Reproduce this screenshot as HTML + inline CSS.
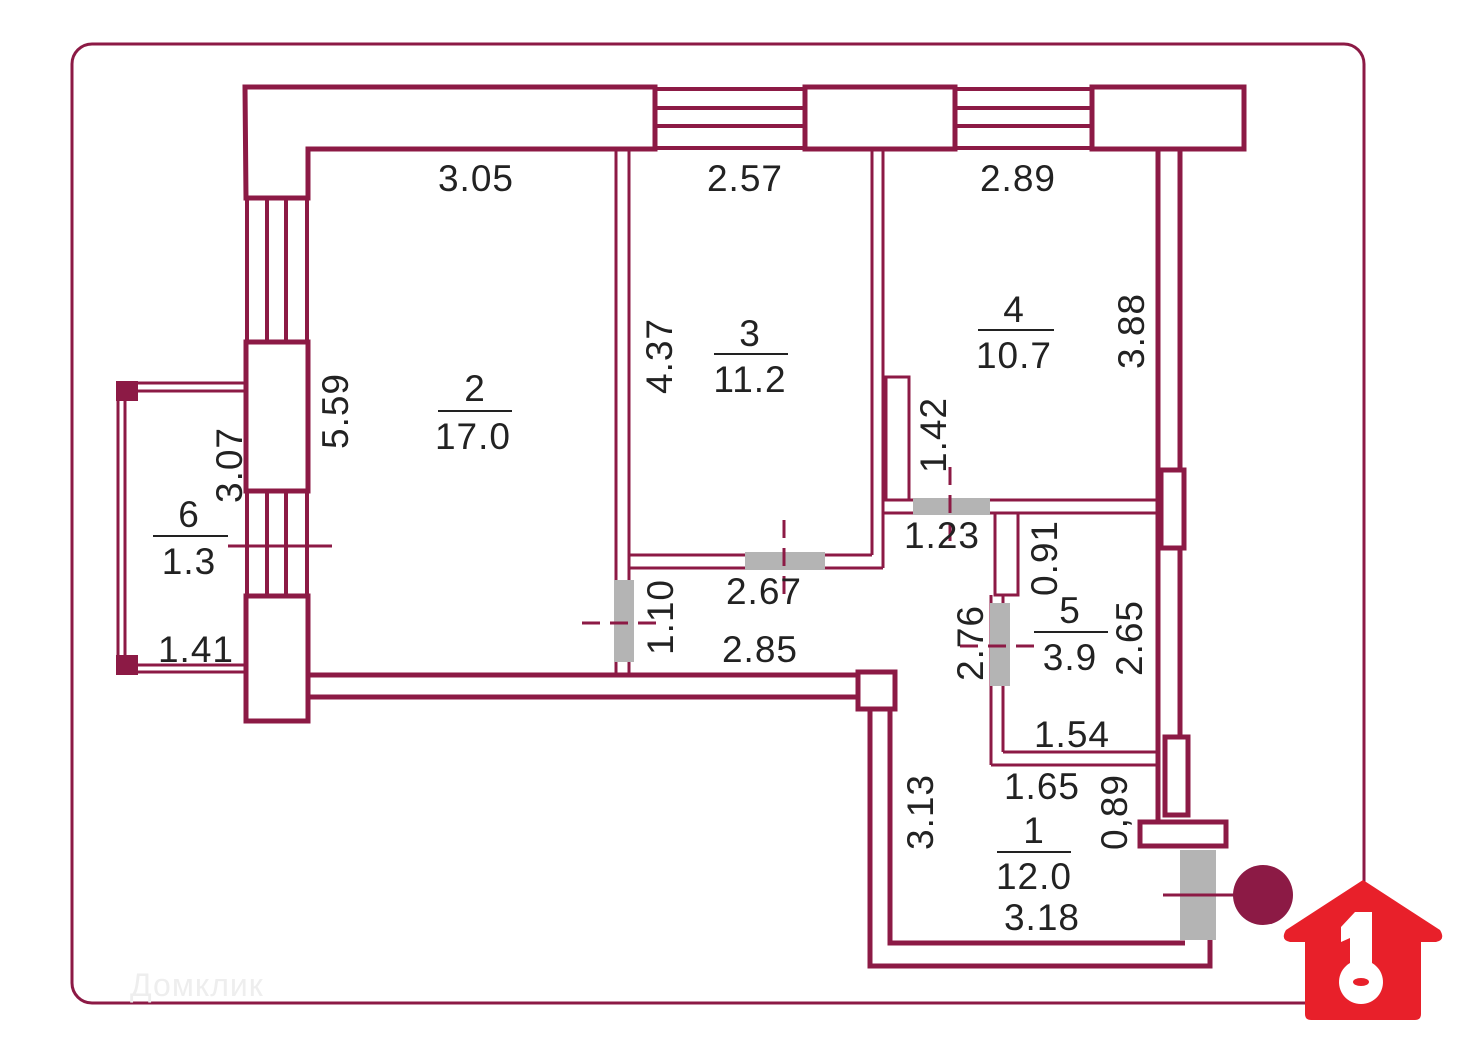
<!DOCTYPE html>
<html><head><meta charset="utf-8"><style>
html,body{margin:0;padding:0;background:#fff;}
svg{display:block}
text{font-family:"Liberation Sans",sans-serif;font-size:37px;letter-spacing:1px;fill:#222;}
</style></head><body>
<svg width="1460" height="1051" viewBox="0 0 1460 1051" xmlns="http://www.w3.org/2000/svg">
<g fill="none" stroke="#8c1a45">
<rect x="72" y="44" width="1292" height="959" rx="20" stroke-width="3"/>
<path d="M245 87 H655 V149 H308 V198 H246 Z" stroke-width="5"/>
<rect x="805" y="87" width="150" height="62" stroke-width="5"/>
<rect x="1092" y="87" width="152" height="62" stroke-width="5"/>
<g stroke-width="4">
<line x1="655" y1="89" x2="805" y2="89"/><line x1="655" y1="108" x2="805" y2="108"/><line x1="655" y1="126" x2="805" y2="126"/><line x1="655" y1="148" x2="805" y2="148"/>
<line x1="955" y1="89" x2="1092" y2="89"/><line x1="955" y1="108" x2="1092" y2="108"/><line x1="955" y1="126" x2="1092" y2="126"/><line x1="955" y1="148" x2="1092" y2="148"/>
<line x1="247" y1="198" x2="247" y2="342"/><line x1="267" y1="198" x2="267" y2="342"/><line x1="286" y1="198" x2="286" y2="342"/><line x1="307" y1="198" x2="307" y2="342"/>
<line x1="247" y1="490" x2="247" y2="596"/><line x1="267" y1="490" x2="267" y2="596"/><line x1="286" y1="490" x2="286" y2="596"/><line x1="307" y1="490" x2="307" y2="596"/>
</g>
<rect x="246" y="342" width="62" height="149" stroke-width="5"/>
<rect x="246" y="596" width="62" height="125" stroke-width="5"/>
<g stroke-width="3">
<line x1="118" y1="390" x2="118" y2="672"/><line x1="125" y1="390" x2="125" y2="665"/>
<line x1="118" y1="383" x2="246" y2="383"/><line x1="125" y1="391" x2="246" y2="391"/>
<line x1="118" y1="672" x2="246" y2="672"/><line x1="125" y1="665" x2="246" y2="665"/>
<line x1="228" y1="546" x2="332" y2="546"/>
</g>
<g stroke-width="5">
<line x1="308" y1="675" x2="858" y2="675"/><line x1="308" y1="697" x2="858" y2="697"/>
<rect x="858" y="672" width="37" height="37"/>
<path d="M870 709 V966 H1210 V940"/>
<path d="M890 709 V943 H1185"/>
<line x1="1158" y1="150" x2="1158" y2="822"/><line x1="1180" y1="150" x2="1180" y2="470"/>
<line x1="1180" y1="548" x2="1180" y2="737"/>
<rect x="1161" y="470" width="23" height="78"/>
<rect x="1165" y="737" width="23" height="78"/>
<rect x="1140" y="822" width="86" height="24"/>
</g>
<g stroke-width="3">
<line x1="616" y1="150" x2="616" y2="673"/><line x1="629" y1="150" x2="629" y2="673"/>
<line x1="629" y1="555" x2="872" y2="555"/><line x1="629" y1="568" x2="883" y2="568"/>
<line x1="872" y1="150" x2="872" y2="555"/><line x1="883" y1="150" x2="883" y2="568"/>
<rect x="886" y="377" width="23" height="123"/>
<line x1="883" y1="500" x2="1157" y2="500"/><line x1="883" y1="513" x2="1157" y2="513"/>
<rect x="995" y="513" width="23" height="82"/>
<line x1="991" y1="595" x2="991" y2="765"/><line x1="1003" y1="595" x2="1003" y2="752"/>
<line x1="1003" y1="752" x2="1157" y2="752"/><line x1="991" y1="765" x2="1157" y2="765"/>
</g>
</g>
<g fill="#b4b4b4">
<rect x="614" y="580" width="20" height="82"/>
<rect x="745" y="552" width="80" height="18"/>
<rect x="913" y="498" width="77" height="17"/>
<rect x="990" y="603" width="20" height="83"/>
<rect x="1180" y="850" width="36" height="90"/>
</g>
<g stroke="#8c1a45" stroke-width="3" stroke-dasharray="18 10">
<line x1="582" y1="623" x2="665" y2="623"/>
<line x1="784" y1="520" x2="784" y2="600"/>
<line x1="950" y1="467" x2="950" y2="550"/>
<line x1="960" y1="646" x2="1040" y2="646"/>
</g>
<line x1="1163" y1="895" x2="1240" y2="895" stroke="#8c1a45" stroke-width="3"/>
<circle cx="1263" cy="895" r="30" fill="#8c1a45"/>
<rect x="116" y="381" width="22" height="20" fill="#8c1a45"/>
<rect x="116" y="655" width="22" height="20" fill="#8c1a45"/>
<g stroke="#222" stroke-width="2">
<line x1="438" y1="411" x2="512" y2="411"/>
<line x1="714" y1="354" x2="788" y2="354"/>
<line x1="978" y1="330" x2="1054" y2="330"/>
<line x1="153" y1="536" x2="228" y2="536"/>
<line x1="1034" y1="632" x2="1108" y2="632"/>
<line x1="997" y1="852" x2="1071" y2="852"/>
</g>
<g text-anchor="middle">
<text x="476" y="191">3.05</text><text x="745" y="191">2.57</text><text x="1018" y="191">2.89</text>
<text x="475" y="401">2</text><text x="473" y="449">17.0</text>
<text x="750" y="346">3</text><text x="750" y="392">11.2</text>
<text x="1014" y="322">4</text><text x="1014" y="368">10.7</text>
<text x="189" y="527">6</text><text x="189" y="574">1.3</text>
<text x="1070" y="623">5</text><text x="1070" y="670">3.9</text>
<text x="1034" y="843">1</text><text x="1034" y="889">12.0</text>
<text x="1042" y="930">3.18</text>
<text x="942" y="548">1.23</text><text x="764" y="604">2.67</text><text x="760" y="662">2.85</text>
<text x="196" y="662">1.41</text><text x="1072" y="747">1.54</text><text x="1042" y="799">1.65</text>
<text transform="translate(348 411) rotate(-90)">5.59</text>
<text transform="translate(242 465) rotate(-90)">3.07</text>
<text transform="translate(672 356) rotate(-90)">4.37</text>
<text transform="translate(1144 331) rotate(-90)">3.88</text>
<text transform="translate(946 435) rotate(-90)">1.42</text>
<text transform="translate(1057 558) rotate(-90)">0.91</text>
<text transform="translate(1142 638) rotate(-90)">2.65</text>
<text transform="translate(983 643) rotate(-90)">2.76</text>
<text transform="translate(673 617) rotate(-90)">1.10</text>
<text transform="translate(933 812) rotate(-90)">3.13</text>
<text transform="translate(1127 812) rotate(-90)">0,89</text>
</g>
<text x="130" y="996" style="font-size:32px;fill:#eee">Домклик</text>
<path d="M1363 880 L1440 930 Q1446 940 1436 942 L1421 942 L1421 1014 Q1421 1020 1415 1020 L1311 1020 Q1305 1020 1305 1014 L1305 942 L1290 942 Q1280 940 1286 930 Z" fill="#e8202a"/>
<path d="M1355 912 L1372 912 L1372 963 A22 22 0 1 1 1350 963 L1350 938 L1341 942 L1341 927 Z" fill="#fff"/>
<ellipse cx="1361" cy="982" rx="8" ry="4" fill="#e8202a"/>
</svg>
</body></html>
